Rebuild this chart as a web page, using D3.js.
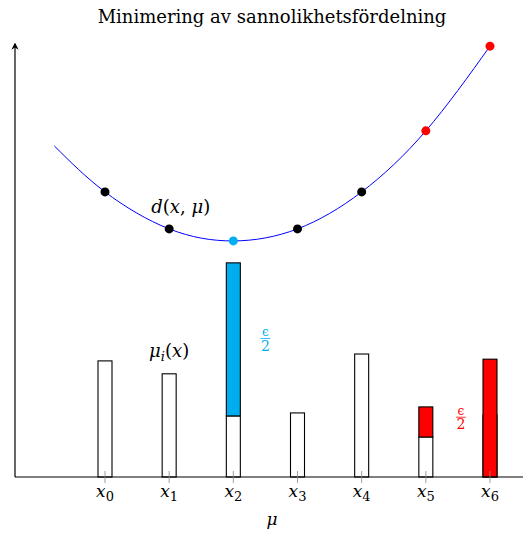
<!DOCTYPE html>
<html>
<head>
<meta charset="utf-8">
<script src="https://cdn.jsdelivr.net/npm/d3@7"></script>
<style>
  body { margin: 0; background: #fff; }
  text { font-family: "DejaVu Serif", serif; }
</style>
</head>
<body>
<div id="chart"></div>
<script>
// tick labels x_0 ... x_6
const ticks = [0, 1, 2, 3, 4, 5, 6];
// base mass mu_i(x) at each x
const mass = [2.70, 2.40, 1.42, 1.49, 2.86, 0.93, 1.44];
// moved mass eps/2 (from, to), null where none
const shiftFrom = [null, null, 1.42, null, null, 0.93, 0];
const shiftTo = [null, null, 4.98, null, null, 1.63, 2.74];
const shiftColor = [null, null, "#00aeef", null, null, "#ff0000", "#ff0000"];
// d(x, mu)
const curveX = [-0.79, 0, 1, 2, 3, 4, 5, 6];
const curveY = [7.70, 6.63, 5.77, 5.49, 5.77, 6.63, 8.05, 10.02];
const dotColor = ["#000", "#000", "#00aeef", "#000", "#000", "#ff0000", "#ff0000"];

const width = 523, height = 534;
const svg = d3.select("#chart").append("svg")
    .attr("width", width)
    .attr("height", height);

const x = d3.scaleLinear().domain([0, 6]).range([105, 490]);
const y = d3.scaleLinear().domain([0, 10]).range([477, 47]);
const barW = 14;

// title
svg.append("text")
    .attr("x", 272).attr("y", 23)
    .attr("text-anchor", "middle")
    .style("font-size", "18px")
    .text("Minimering av sannolikhetsfördelning");

// bars
svg.selectAll(".bar")
    .data(mass)
    .enter().append("rect")
    .attr("class", "bar")
    .attr("x", (d, i) => x(i) - barW / 2)
    .attr("y", d => y(d))
    .attr("width", barW)
    .attr("height", d => y(0) - y(d))
    .attr("fill", "#fff")
    .attr("stroke", "#000")
    .attr("stroke-width", 1.1);

// moved mass
svg.selectAll(".shift")
    .data(ticks.filter(i => shiftTo[i] !== null))
    .enter().append("rect")
    .attr("class", "shift")
    .attr("x", i => x(i) - barW / 2)
    .attr("y", i => y(shiftTo[i]))
    .attr("width", barW)
    .attr("height", i => y(shiftFrom[i]) - y(shiftTo[i]))
    .attr("fill", i => shiftColor[i])
    .attr("stroke", "#000")
    .attr("stroke-width", 1.1);

// axes
svg.append("defs").append("marker")
    .attr("id", "arrow")
    .attr("viewBox", "0 0 10 10")
    .attr("refX", 8).attr("refY", 5)
    .attr("markerWidth", 6).attr("markerHeight", 6)
    .attr("orient", "auto")
    .append("path")
    .attr("d", "M0,0 L10,5 L0,10 L3,5 z")
    .attr("fill", "#000");

svg.append("line")
    .attr("x1", 15).attr("x2", 523)
    .attr("y1", y(0)).attr("y2", y(0))
    .attr("stroke", "#000").attr("stroke-width", 1.2);

svg.append("line")
    .attr("x1", 15).attr("x2", 15)
    .attr("y1", y(0)).attr("y2", 44)
    .attr("stroke", "#000").attr("stroke-width", 1.2)
    .attr("marker-end", "url(#arrow)");

// tick marks
svg.selectAll(".tick")
    .data(ticks)
    .enter().append("line")
    .attr("class", "tick")
    .attr("x1", d => x(d)).attr("x2", d => x(d))
    .attr("y1", y(0) - 6).attr("y2", y(0) + 6)
    .attr("stroke", "#888").attr("stroke-width", 0.8);

const tl = svg.selectAll(".tlabel")
    .data(ticks)
    .enter().append("text")
    .attr("class", "tlabel")
    .attr("x", d => x(d))
    .attr("y", 497)
    .attr("text-anchor", "middle")
    .style("font-size", "17px");
tl.append("tspan").style("font-style", "italic").text("x");
tl.append("tspan").attr("dy", 4).style("font-size", "13px").text(d => d);

svg.append("text")
    .attr("x", 272).attr("y", 525)
    .attr("text-anchor", "middle")
    .style("font-size", "17px").style("font-style", "italic")
    .text("μ");

// curve
const pts = curveX.map((d, i) => [d, curveY[i]]);
svg.append("path")
    .datum(pts)
    .attr("fill", "none")
    .attr("stroke", "#0000ff")
    .attr("stroke-width", 1)
    .attr("d", d3.line().x(d => x(d[0])).y(d => y(d[1])).curve(d3.curveNatural));

svg.selectAll(".dot")
    .data(ticks)
    .enter().append("circle")
    .attr("class", "dot")
    .attr("cx", d => x(d))
    .attr("cy", d => y(curveY[d + 1]))
    .attr("r", 4.5)
    .attr("fill", d => dotColor[d]);

// annotations
const dl = svg.append("text")
    .attr("x", x(1.18)).attr("y", 213)
    .attr("text-anchor", "middle")
    .style("font-size", "18px");
dl.append("tspan").style("font-style", "italic").text("d");
dl.append("tspan").text("(");
dl.append("tspan").style("font-style", "italic").text("x");
dl.append("tspan").text(", ");
dl.append("tspan").style("font-style", "italic").text("μ");
dl.append("tspan").text(")");

const ml = svg.append("text")
    .attr("x", x(1)).attr("y", 357)
    .attr("text-anchor", "middle")
    .style("font-size", "18px");
ml.append("tspan").style("font-style", "italic").text("μ");
ml.append("tspan").attr("dy", 4).style("font-size", "13px").style("font-style", "italic").text("i");
ml.append("tspan").attr("dy", -4).text("(");
ml.append("tspan").style("font-style", "italic").text("x");
ml.append("tspan").text(")");

function half(cx, cy, color) {
    const g = svg.append("g").attr("transform", `translate(${cx},${cy})`);
    g.append("text").attr("y", -2.5).attr("text-anchor", "middle")
        .style("font-size", "12px").attr("fill", color).text("ϵ");
    g.append("line").attr("x1", -5).attr("x2", 5).attr("y1", 0).attr("y2", 0)
        .attr("stroke", color).attr("stroke-width", 0.8);
    g.append("text").attr("y", 12).attr("text-anchor", "middle")
        .style("font-size", "14px").attr("fill", color).text("2");
}
half(x(2) + 32, y(3.22), "#00aeef");
half(x(5) + 35, y(1.39), "#ff0000");
</script>
</body>
</html>
